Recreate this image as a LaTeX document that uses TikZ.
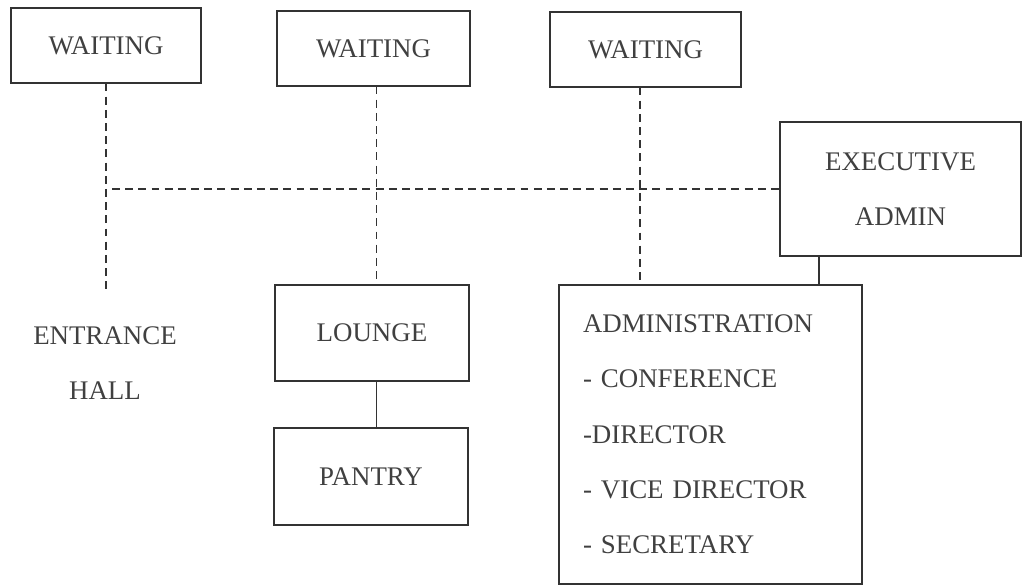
\documentclass[tikz,border=0pt]{standalone}
\usepackage{fontspec}
\setmainfont{Liberation Serif}
\usepackage{tikz}

\begin{document}
\begin{tikzpicture}[x=1cm,y=1cm,
  room/.style={draw=black!80, line width=0.6pt, text=black!75, inner sep=0pt, align=center},
  label/.style={text=black!75, inner sep=0pt, align=center},
  link/.style={draw=black!80, line width=0.6pt},
  corridor/.style={draw=black!80, line width=0.6pt, dash pattern=on 4.5pt off 3pt},
  font=\fontsize{15.3}{31.5}\selectfont]
\useasboundingbox (0,0) rectangle (20.44,-11.72);
\node[room, minimum width=3.8cm, minimum height=1.5cm] (wait1) at (2.12,-0.91) {WAITING};
\node[room, minimum width=3.86cm, minimum height=1.5cm] (wait2) at (7.47,-0.97) {WAITING};
\node[room, minimum width=3.82cm, minimum height=1.5cm] (wait3) at (12.91,-0.99) {WAITING};
\node[room, minimum width=4.82cm, minimum height=2.68cm] (exec) at (18.01,-3.78) {EXECUTIVE\\ADMIN};
\node[room, minimum width=3.88cm, minimum height=1.92cm] (lounge) at (7.44,-6.66) {LOUNGE};
\node[room, minimum width=3.88cm, minimum height=1.94cm] (pantry) at (7.42,-9.53) {PANTRY};
\node[room, minimum width=6.06cm, minimum height=5.98cm, align=left, text width=5.1cm, inner xsep=0.48cm] (admin) at (14.21,-8.69)
  {ADMINISTRATION\\- CONFERENCE\\-DIRECTOR\\- VICE DIRECTOR\\- SECRETARY};
\node[label] (hall) at (2.1,-7.26) {ENTRANCE\\HALL};
\coordinate (hallend) at (2.12,-5.84);
\coordinate (joint) at (2.24,-3.78);
\coordinate (lane2) at (7.53,0);
\coordinate (lane3) at (12.8,0);
\coordinate (execlink) at (16.38,0);
\draw[corridor] (wait1.south) -- (hallend);
\draw[corridor] (joint) -- (exec.west);
\draw[corridor] (wait2.south -| lane2) -- (lounge.north -| lane2);
\draw[corridor] (wait3.south -| lane3) -- (admin.north -| lane3);
\draw[link] (lounge.south -| lane2) -- (pantry.north -| lane2);
\draw[link] (exec.south -| execlink) -- (admin.north -| execlink);
\end{tikzpicture}
\end{document}
